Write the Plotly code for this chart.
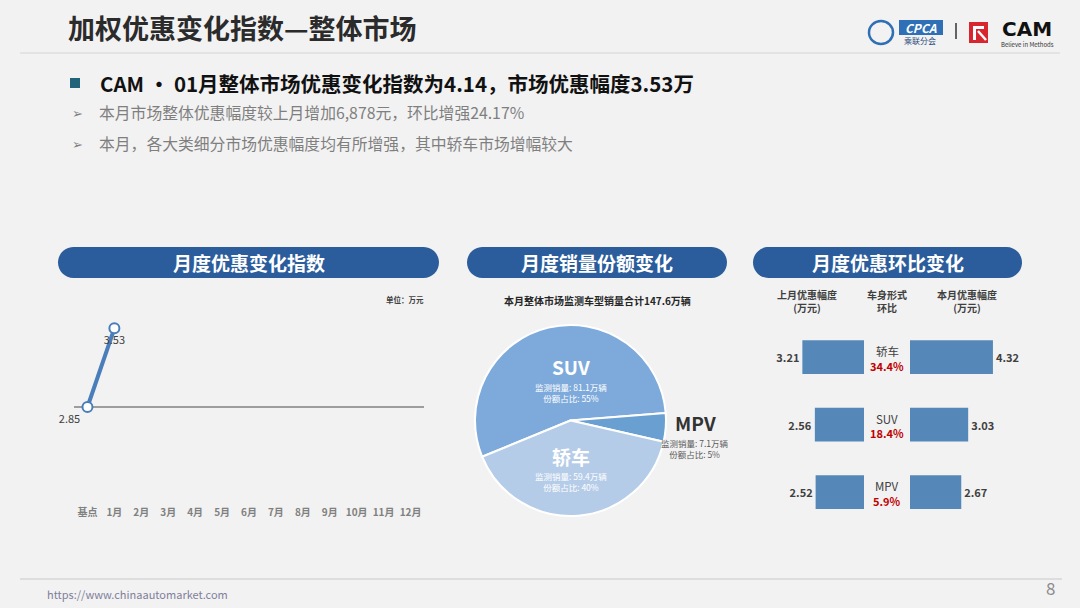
import plotly.graph_objects as go

W, H = 1080, 608
FONT = "Noto Sans CJK SC"

# monthly discount-change index (万元)
months = ["基点", "1月", "2月", "3月", "4月", "5月", "6月", "7月", "8月", "9月", "10月", "11月", "12月"]
discount = [2.85, 3.53]

# monitored sales share this month (万辆)
segments = ["SUV", "MPV", "轿车"]
sales = [81.1, 7.1, 59.4]
shares = [55, 5, 40]
total_sales = 147.6

# month-on-month discount by body type (万元)
body_types = ["轿车", "SUV", "MPV"]
last_month = [3.21, 2.56, 2.52]
this_month = [4.32, 3.03, 2.67]
mom_change = ["34.4%", "18.4%", "5.9%"]

BLUE = "#4a7ebb"
BAR = "#5587b9"
PILL = "#2b5d9c"
DARK = "#404040"


def px(x):
    return x / W


def py(y):
    return 1 - y / H


def pill_path(x0, y0, x1, y1):
    # rounded pill built from cubic curves in pixel space, mapped to paper
    r = (y1 - y0) / 2
    ym = (y0 + y1) / 2
    k = 0.5523 * r
    pts = [
        ("M", [(x0 + r, y0)]),
        ("L", [(x1 - r, y0)]),
        ("C", [(x1 - r + k, y0), (x1, ym - k), (x1, ym)]),
        ("C", [(x1, ym + k), (x1 - r + k, y1), (x1 - r, y1)]),
        ("L", [(x0 + r, y1)]),
        ("C", [(x0 + r - k, y1), (x0, ym + k), (x0, ym)]),
        ("C", [(x0, ym - k), (x0 + r - k, y0), (x0 + r, y0)]),
    ]
    out = ""
    for cmd, coords in pts:
        out += cmd + " ".join(f"{px(a):.5f},{py(b):.5f}" for a, b in coords) + " "
    return out + "Z"


def label(x, y, text, size, color=DARK, bold=False, anchor="center", family=FONT):
    return dict(
        x=px(x), y=py(y), xref="paper", yref="paper", text=text, showarrow=False,
        xanchor=anchor, yanchor="middle",
        font=dict(family=family, size=size, color=color, weight="bold" if bold else "normal"),
    )


fig = go.Figure()

# line chart
fig.add_trace(go.Scatter(
    x=months[:len(discount)], y=discount, xaxis="x", yaxis="y",
    mode="lines+markers+text",
    text=[f"{v:.2f}" for v in discount],
    textposition=["bottom left", "bottom center"],
    textfont=dict(family=FONT, size=11, color=DARK),
    line=dict(color=BLUE, width=4),
    marker=dict(size=10, color="white", line=dict(color=BLUE, width=2)),
    cliponaxis=False, hoverinfo="skip", showlegend=False,
))

# pie
suv_sweep = sales[0] / sum(sales) * 360
fig.add_trace(go.Pie(
    labels=segments, values=sales, sort=False, direction="clockwise",
    rotation=85.5 - suv_sweep,
    domain=dict(x=[px(475), px(666)], y=[py(516), py(325)]),
    marker=dict(colors=["#7eaadb", "#6a9fd1", "#b5cce8"], line=dict(color="white", width=2)),
    textinfo="none", hoverinfo="skip", showlegend=False,
))

# mirrored bars
fig.add_trace(go.Bar(
    y=body_types, x=last_month, orientation="h", xaxis="x2", yaxis="y2",
    marker=dict(color=BAR, line=dict(width=0)),
    text=[f"<b>{v:.2f}</b>" for v in last_month], textposition="outside",
    textfont=dict(family=FONT, size=11, color=DARK), cliponaxis=False,
    hoverinfo="skip", showlegend=False,
))
fig.add_trace(go.Bar(
    y=body_types, x=this_month, orientation="h", xaxis="x3", yaxis="y3",
    marker=dict(color=BAR, line=dict(width=0)),
    text=[f"<b>{v:.2f}</b>" for v in this_month], textposition="outside",
    textfont=dict(family=FONT, size=11, color=DARK), cliponaxis=False,
    hoverinfo="skip", showlegend=False,
))

bar_span = 104 / 19.2
hidden = dict(visible=False, showgrid=False, zeroline=False)

fig.update_layout(
    width=W, height=H,
    margin=dict(l=0, r=0, t=0, b=0),
    paper_bgcolor="#f2f2f2", plot_bgcolor="rgba(0,0,0,0)",
    bargap=0.5,
    xaxis=dict(
        domain=[px(74), px(424)], type="category", categoryorder="array", categoryarray=months,
        range=[-0.5, 12.5], showgrid=False, zeroline=False, showline=False, ticks="",
        tickfont=dict(family=FONT, size=10, color="#808080", weight="bold"), anchor="y",
    ),
    yaxis=dict(domain=[py(505), py(300)], range=[2.003, 3.775], anchor="x", **hidden),
    xaxis2=dict(domain=[px(760), px(864)], range=[bar_span, 0], anchor="y2", **hidden),
    yaxis2=dict(domain=[py(525.75), py(323.25)], type="category", range=[2.5, -0.5], anchor="x2", **hidden),
    xaxis3=dict(domain=[px(910), px(1014)], range=[0, bar_span], anchor="y3", **hidden),
    yaxis3=dict(domain=[py(525.75), py(323.25)], type="category", range=[2.5, -0.5], anchor="x3", **hidden),
)

shapes = [
    # header and footer rules
    dict(type="line", xref="paper", yref="paper", x0=px(20), x1=px(1060), y0=py(53), y1=py(53),
         line=dict(color="#d4d4d4", width=1)),
    dict(type="line", xref="paper", yref="paper", x0=px(20), x1=px(1062), y0=py(579), y1=py(579),
         line=dict(color="#d6d6d6", width=1.5)),
    # subtitle marker
    dict(type="rect", xref="paper", yref="paper", x0=px(70), x1=px(80), y0=py(88), y1=py(78),
         fillcolor="#21647a", line=dict(width=0)),
    # base line of the index chart
    dict(type="line", xref="x domain", yref="y", x0=0, x1=1, y0=discount[0], y1=discount[0],
         line=dict(color="#808080", width=1.5), layer="below"),
    # logos
    dict(type="circle", xref="paper", yref="paper", x0=px(869), x1=px(893), y0=py(44), y1=py(21),
         line=dict(color="#2f6fb5", width=2.5)),
    dict(type="rect", xref="paper", yref="paper", x0=px(899), x1=px(943), y0=py(35), y1=py(20),
         fillcolor="#2f6fb5", line=dict(width=0)),
    dict(type="line", xref="paper", yref="paper", x0=px(956), x1=px(956), y0=py(23), y1=py(39),
         line=dict(color="#333333", width=1.5)),
    dict(type="rect", xref="paper", yref="paper", x0=px(969), x1=px(988), y0=py(43), y1=py(22),
         fillcolor="#d7262e", line=dict(width=0)),
    dict(type="path", xref="paper", yref="paper",
         path=f"M{px(973)},{py(26)} L{px(984)},{py(26)} L{px(984)},{py(29)} L{px(976)},{py(29)} "
              f"L{px(976)},{py(40)} L{px(973)},{py(40)} Z",
         fillcolor="white", line=dict(width=0)),
    dict(type="line", xref="paper", yref="paper", x0=px(978), x1=px(986), y0=py(31), y1=py(40),
         line=dict(color="white", width=2.5)),
]
for x0, x1 in [(58, 439), (467, 727), (753, 1022)]:
    shapes.append(dict(type="path", xref="paper", yref="paper", path=pill_path(x0, 247, x1, 278),
                       fillcolor=PILL, line=dict(width=0)))

annotations = [
    label(66, 27, "加权优惠变化指数—整体市场", 27, "#2b2b2b", True, "left"),
    label(98, 83, "CAM • 01月整体市场优惠变化指数为4.14，市场优惠幅度3.53万", 20.5, "#111111", True, "left"),
    label(77, 113, "➢", 13, "#7f7f7f"),
    label(97, 113, "本月市场整体优惠幅度较上月增加6,878元，环比增强24.17%", 15.8, "#7f7f7f", anchor="left"),
    label(77, 144, "➢", 13, "#7f7f7f"),
    label(97, 144, "本月，各大类细分市场优惠幅度均有所增强，其中轿车市场增幅较大", 15.8, "#7f7f7f", anchor="left"),
    # pills
    label(248.5, 262, "月度优惠变化指数", 19, "white", True),
    label(597, 262, "月度销量份额变化", 19, "white", True),
    label(887.5, 262, "月度优惠环比变化", 19, "white", True),
    # line chart unit
    label(426, 299, "单位：万元", 7.5, DARK, True, "right"),
    # pie
    label(597, 300, f"本月整体市场监测车型销量合计{total_sales}万辆", 10, "#262626", True),
    # headers of the bar panel
    label(807, 301, "上月优惠幅度<br>(万元)", 10, DARK, True),
    label(887, 301, "车身形式<br>环比", 10, DARK, True),
    label(967, 301, "本月优惠幅度<br>(万元)", 10, DARK, True),
    # footer
    label(45, 594, "https://www.chinaautomarket.com", 11, "#7f7f9a", anchor="left"),
    label(1050, 587, "8", 17, "#8c8c8c"),
    # logo text
    label(921, 27.5, "<i>CPCA</i>", 12, "white", True),
    label(920, 40.5, "乘联分会", 8, "#2b4a7a"),
    label(1027, 29, "CAM", 20, "#111111", True, family="DejaVu Sans"),
    label(1027, 44, "Believe in Methods", 6, "#333333"),
]

pie_pos = {"SUV": (571, 366, 392, "white"), "轿车": (571, 456, 481.5, "white"), "MPV": (695, 422, 448.5, "#595959")}
for name, vol, share in zip(segments, sales, shares):
    x, y_title, y_sub, col = pie_pos[name]
    annotations.append(label(x, y_title, name, 19, "white" if col == "white" else "#333333", True))
    annotations.append(label(x, y_sub, f"监测销量: {vol}万辆<br>份额占比: {share}%", 8.5, col))

row_y = [357, 425, 492]
for name, chg, y in zip(body_types, mom_change, row_y):
    annotations.append(label(887, y - 6.5, name, 11.5, DARK))
    annotations.append(label(887, y + 8.5, chg, 11, "#c00000", True))

fig.update_layout(shapes=shapes, annotations=annotations)

fig.write_html(
    "out.html",
    config={"displayModeBar": False},
    post_script="document.body.style.margin='0';document.body.style.overflow='hidden';",
)
